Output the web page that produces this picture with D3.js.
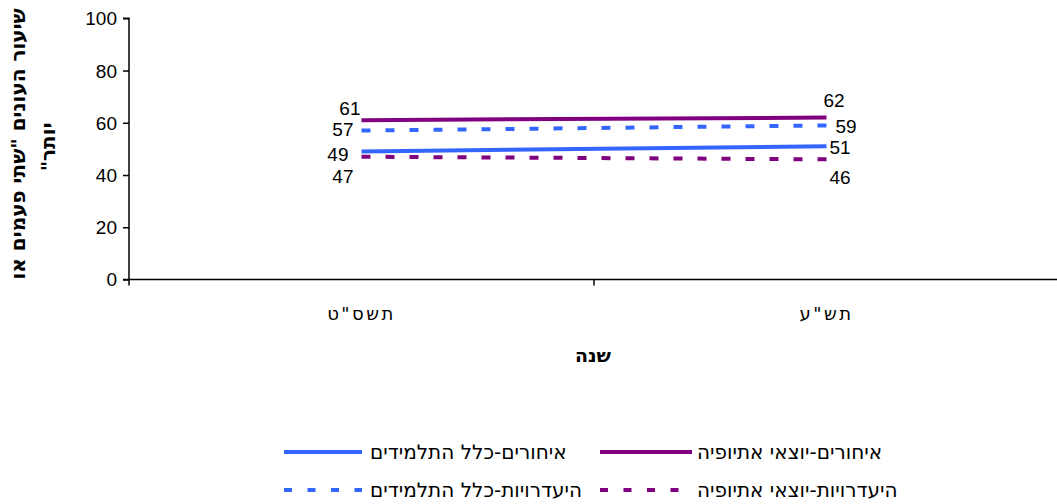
<!DOCTYPE html>
<html><head><meta charset="utf-8">
<script src="https://cdn.jsdelivr.net/npm/d3@7"></script>
<style>
body{margin:0;background:#fff;}
svg{display:block;}
.num{font-family:"Liberation Sans",Arial,sans-serif;}
.heb{font-family:"DejaVu Sans",sans-serif;}
</style></head><body>
<svg id="c" width="1057" height="504"></svg>
<script>
const categories = ["תשס\"ט", "תש\"ע"];
const seriesNames = ["איחורים-כלל התלמידים", "איחורים-יוצאי אתיופיה", "היעדרויות-כלל התלמידים", "היעדרויות-יוצאי אתיופיה"];
const lateAll = [49, 51];
const lateEthiopia = [61, 62];
const absentAll = [57, 59];
const absentEthiopia = [47, 46];
const yTicks = [0, 20, 40, 60, 80, 100];
const yTitle1 = "שיעור העונים \"שתי פעמים או";
const yTitle2 = "יותר\"";
const xTitle = "שנה";

const colors = ["#3366FF", "#800080", "#3366FF", "#800080"];
const dashed = [false, false, true, true];
// label offsets [left point, right point] as [dx, dy, anchor]
const labelPos = [
  [[-13, 3, "end"], [3, 1, "start"]],
  [[-1, -12, "end"], [-3, -17, "start"]],
  [[-8, -1, "end"], [9, 1, "start"]],
  [[-8, 20, "end"], [3, 18, "start"]]
];
const series = [lateAll, lateEthiopia, absentAll, absentEthiopia];

const svg = d3.select("#c");
const mLeft = 129, mRight = 1059, mTop = 18.3, mBottom = 279.5;
const x = d3.scaleBand().domain(categories).range([mLeft, mRight]);
const y = d3.scaleLinear().domain([0, 100]).range([mBottom, mTop]);

// y axis
const yAxis = d3.axisLeft(y).tickValues(yTicks).tickSize(6).tickPadding(6);
const gy = svg.append("g").attr("transform", `translate(${mLeft},0)`).call(yAxis);
gy.select(".domain").attr("d", `M-6,${mTop}H0V${mBottom + 6}`).attr("stroke", "#000").attr("stroke-width", 1.5);
gy.selectAll(".tick line").attr("stroke", "#000").attr("stroke-width", 1.5);
gy.selectAll(".tick text").attr("class", "num").attr("font-size", 19).attr("fill", "#000").attr("dy", "0.34em");

// x axis
const xAxis = d3.axisBottom(x).tickSize(0).tickPadding(0);
const gx = svg.append("g").attr("transform", `translate(0,${mBottom})`).call(xAxis);
gx.select(".domain").attr("d", `M${mLeft - 6},0H${mRight}`).attr("stroke", "#000").attr("stroke-width", 1.5);
gx.selectAll(".tick text").attr("class", "heb").attr("font-size", 18).attr("letter-spacing", 2.5)
  .attr("fill", "#000").attr("y", 40).attr("dy", "0");
// boundary tick marks between categories
const bounds = [x(categories[1])];
svg.selectAll("line.bt").data(bounds).enter().append("line")
  .attr("x1", d => d).attr("x2", d => d).attr("y1", mBottom).attr("y2", mBottom + 6)
  .attr("stroke", "#000").attr("stroke-width", 1.5);

const cx = d => x(d) + x.bandwidth() / 2;
const line = d3.line().x((d, i) => cx(categories[i])).y(d => y(d));

series.forEach((s, k) => {
  svg.append("path").datum(s).attr("d", line).attr("fill", "none")
    .attr("stroke", colors[k]).attr("stroke-width", 4)
    .attr("stroke-dasharray", dashed[k] ? "9,15" : null);
});
series.forEach((s, k) => {
  s.forEach((v, i) => {
    const p = labelPos[k][i];
    svg.append("text").attr("class", "num").attr("font-size", 19).attr("fill", "#000")
      .attr("x", cx(categories[i]) + p[0]).attr("y", y(v) + p[1]).attr("dy", "0.35em")
      .attr("text-anchor", p[2]).text(v);
  });
});

// axis titles
svg.append("text").attr("class", "heb").attr("font-size", 19).attr("font-weight", "bold")
  .attr("text-anchor", "middle").attr("x", (mLeft + mRight) / 2 - 1).attr("y", 362).text(xTitle);
const yt = svg.append("g").attr("transform", `translate(0,${(mTop + mBottom) / 2}) rotate(-90)`);
yt.append("text").attr("class", "heb").attr("font-size", 20).attr("font-weight", "bold")
  .attr("direction", "rtl").attr("unicode-bidi", "embed")
  .attr("text-anchor", "middle").attr("x", 5).attr("y", 25).text(yTitle1);
yt.append("text").attr("class", "heb").attr("font-size", 20).attr("font-weight", "bold")
  .attr("direction", "rtl").attr("unicode-bidi", "embed")
  .attr("text-anchor", "middle").attr("x", 2).attr("y", 55).text(yTitle2);

// legend (RTL order: right column first)
const legendItems = [
  {name: seriesNames[1], k: 1, col: 1, row: 0},
  {name: seriesNames[0], k: 0, col: 0, row: 0},
  {name: seriesNames[3], k: 3, col: 1, row: 1},
  {name: seriesNames[2], k: 2, col: 0, row: 1}
];
const colX = [284, 600], rowY = [452, 490];
legendItems.forEach(it => {
  const g = svg.append("g").attr("transform", `translate(${colX[it.col]},${rowY[it.row]})`);
  g.append("line").attr("x1", 0).attr("x2", 78 + it.col * 14).attr("y1", 0).attr("y2", 0)
    .attr("stroke", colors[it.k]).attr("stroke-width", 4)
    .attr("stroke-dasharray", dashed[it.k] ? "8,15.5" : null);
  g.append("text").attr("class", "heb").attr("font-size", 20).attr("fill", "#000")
    .attr("x", 86 + it.col * 11).attr("y", 0).attr("dy", "0.36em").attr("text-anchor", "start")
    .text(it.name);
});
</script></body></html>
